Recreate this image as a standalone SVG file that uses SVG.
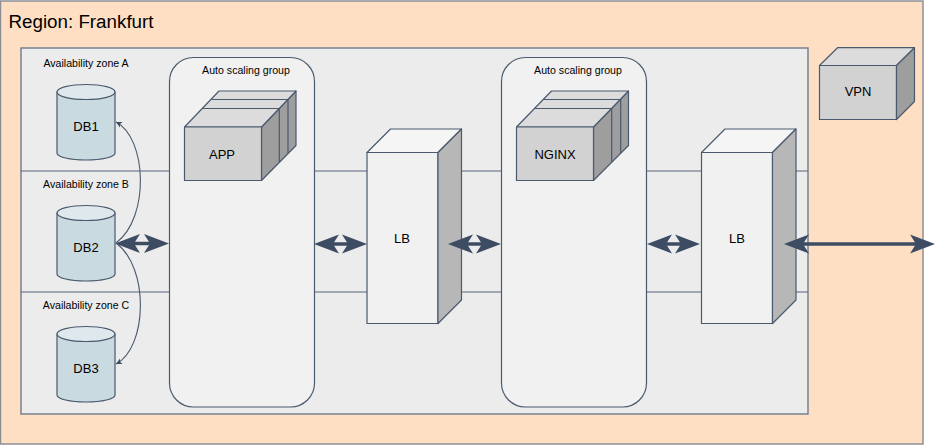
<svg xmlns="http://www.w3.org/2000/svg" width="937" height="446" viewBox="0 0 937 446">
<style>
text{font-family:"Liberation Sans",Arial,sans-serif;fill:#000;text-anchor:middle}
.l{stroke:#4a5a6e;stroke-width:1.2;stroke-linejoin:round}
.zl{font-size:10.6px}.n{font-size:13px}.g{font-size:10.6px}
.cyl{fill:#c9dae0}.cylt{fill:#dfe9ed}
.f{fill:#d2d2d2}.t{fill:#dcdcdc}.s{fill:#9e9e9e}
.lf{fill:#f1f1f1}.lt{fill:#f5f5f5}.ls{fill:#b7b7b7}
.asg{fill:#f1f1f1}
.big{fill:none;stroke:#3d4c63;stroke-width:3.6}
.thin{fill:none;stroke:#4a5a6e;stroke-width:1.1}
</style>
<defs>
<marker id="h" markerUnits="userSpaceOnUse" markerWidth="26" markerHeight="22" refX="19" refY="11" orient="auto-start-reverse" viewBox="0 0 26 22"><path d="M25,11L0,1.500L6,11L0,20.500Z" fill="#3d4c63"/></marker>
<marker id="a" markerUnits="userSpaceOnUse" markerWidth="8" markerHeight="8" refX="7" refY="4" orient="auto" viewBox="0 0 8 8"><path d="M1,1L7,4L1,7L2.500,4Z" fill="#3d4c63"/></marker>
</defs>
<g id="region"><rect x="0.500" y="1" width="922.500" height="443" fill="#ffdfc4" stroke="#8c9096" stroke-width="1.500"/><text x="81" y="28" style="font-size:18.800px">Region: Frankfurt</text></g>
<g id="zones"><rect x="21" y="48" width="787" height="366" fill="#ececec" stroke="#6f7b8a" stroke-width="1.400"/>
<path d="M21 171H808M21 292H808" fill="none" stroke="#56657a" stroke-width="1.100"/></g>
<g id="zone-a"><text class="zl" x="86" y="66.500">Availability zone A</text></g>
<g id="zone-b"><text class="zl" x="86" y="188">Availability zone B</text></g>
<g id="zone-c"><text class="zl" x="86" y="309">Availability zone C</text></g>
<g id="db1"><path class="l cyl" d="M57 92V153C57 157 70 160 86 160S115 157 115 153V92Z"/><ellipse class="l cylt" cx="86" cy="92" rx="29" ry="7.500"/><text class="n" x="86" y="131">DB1</text></g>
<g id="db2"><path class="l cyl" d="M57 213V274C57 278 70 281 86 281S115 278 115 274V213Z"/><ellipse class="l cylt" cx="86" cy="213" rx="29" ry="7.500"/><text class="n" x="86" y="251.500">DB2</text></g>
<g id="db3"><path class="l cyl" d="M57 334V395C57 399 70 402 86 402S115 399 115 395V334Z"/><ellipse class="l cylt" cx="86" cy="334" rx="29" ry="7.500"/><text class="n" x="86" y="373">DB3</text></g>
<g id="asg1"><rect class="l asg" x="169.500" y="57.500" width="145" height="349.500" rx="24"/><text class="g" x="246" y="74">Auto scaling group</text></g>
<g id="app">
<path class="l s" d="M261.500 180.500L296 145.500V91L261.500 127Z"/>
<path class="l t" d="M184.500 127L219 91H296L261.500 127Z"/>
<path class="l" fill="none" d="M202.700 108.500H279.300V162M211.700 99.500H288V153"/>
<rect class="l f" x="184.500" y="127" width="77" height="53.500"/><text class="n" x="222" y="159">APP</text></g>
<g id="lb1"><rect class="l lf" x="367" y="152.500" width="71" height="171"/><path class="l lt" d="M367 152.500L390.500 129H461.500L438 152.500Z"/><path class="l ls" d="M438 152.500L461.500 129V300L438 323.500Z"/><text class="n" x="402" y="242.500">LB</text></g>
<g id="asg2"><rect class="l asg" x="501.500" y="57.500" width="145" height="349.500" rx="24"/><text class="g" x="578" y="74">Auto scaling group</text></g>
<g id="nginx">
<path class="l s" d="M593.500 180.500L628.500 145.500V91L593.500 127Z"/>
<path class="l t" d="M516.500 127L551.500 91H628.500L593.500 127Z"/>
<path class="l" fill="none" d="M535 108.500H611.700V162M544 99.500H620.700V153"/>
<rect class="l f" x="516.500" y="127" width="77" height="53.500"/><text class="n" x="555" y="159">NGINX</text></g>
<g id="lb2"><rect class="l lf" x="701.500" y="152.500" width="71" height="171"/><path class="l lt" d="M701.500 152.500L725 129H796L772.500 152.500Z"/><path class="l ls" d="M772.500 152.500L796 129V300L772.500 323.500Z"/><text class="n" x="737" y="242.500">LB</text></g>
<g id="vpn"><rect class="l f" x="819.500" y="65.500" width="77" height="54"/><path class="l t" d="M819.500 65.500L837.500 47.700H914.500L896.500 65.500Z"/><path class="l s" d="M896.500 65.500L914.500 47.700V101.500L896.500 119.500Z"/><text class="n" x="858" y="96">VPN</text></g>
<g id="connectors">
<path class="big" marker-start="url(#h)" marker-end="url(#h)" d="M121 243.500H163"/>
<path class="big" marker-start="url(#h)" marker-end="url(#h)" d="M320 244H361"/>
<path class="big" marker-start="url(#h)" marker-end="url(#h)" d="M454 244H495"/>
<path class="big" marker-start="url(#h)" marker-end="url(#h)" d="M653 244H694"/>
<path class="big" marker-start="url(#h)" marker-end="url(#h)" d="M790 244H929"/>
<path class="thin" marker-end="url(#a)" d="M116 243C150 218 147 138 116 122"/>
<path class="thin" marker-end="url(#a)" d="M116 243C150 268 147 348 116 364"/>
</g>
</svg>
